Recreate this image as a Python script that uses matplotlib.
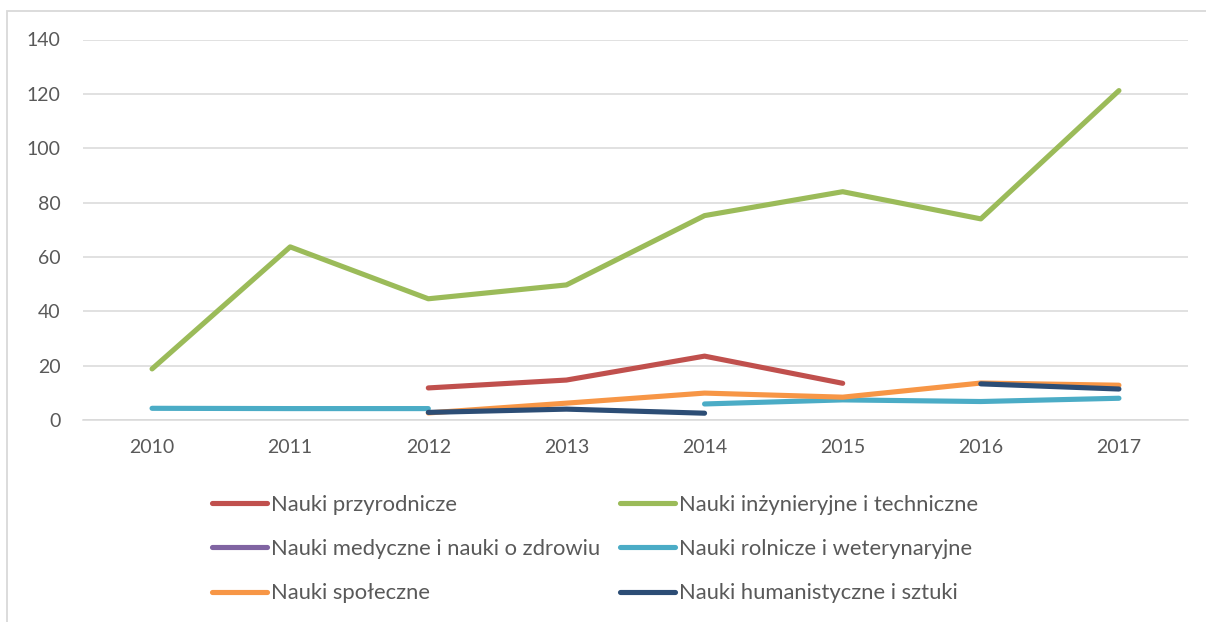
import numpy as np
import matplotlib
matplotlib.use("Agg")
import matplotlib.pyplot as plt
from matplotlib.patches import Rectangle

years = ["2010", "2011", "2012", "2013", "2014", "2015", "2016", "2017"]
nan = np.nan
przyrodnicze = [nan, nan, 11.8, 14.7, 23.5, 13.5, nan, nan]
inzynieryjne = [18.8, 63.7, 44.6, 49.7, 75.2, 84.0, 74.0, 121.2]
medyczne = [nan, nan, nan, nan, nan, nan, nan, nan]
rolnicze = [4.3, 4.2, 4.2, nan, 5.9, 7.4, 6.8, 8.0]
spoleczne = [nan, nan, 2.6, 6.2, 9.9, 8.4, 13.6, 12.8]
humanistyczne = [nan, nan, 2.8, 4.0, 2.5, nan, 13.3, 11.4]

series = [
    ("Nauki przyrodnicze", przyrodnicze, "#C0504D"),
    ("Nauki inżynieryjne i techniczne", inzynieryjne, "#9BBB59"),
    ("Nauki medyczne i nauki o zdrowiu", medyczne, "#8064A2"),
    ("Nauki rolnicze i weterynaryjne", rolnicze, "#4BACC6"),
    ("Nauki społeczne", spoleczne, "#F79646"),
    ("Nauki humanistyczne i sztuki", humanistyczne, "#2C4D75"),
]

plt.rcParams["font.family"] = ["Lato", "DejaVu Sans"]
W, H = 1206, 622
fig = plt.figure(figsize=(W / 100, H / 100), dpi=100)
ax = fig.add_axes([83 / W, (H - 420) / H, (1188 - 83) / W, (420 - 39.5) / H])

x = np.arange(len(years))
handles = []
for name, vals, col in series:
    (ln,) = ax.plot(x, vals, color=col, lw=3.7, solid_capstyle="round",
                    solid_joinstyle="round", label=name)
    handles.append(ln)

ax.set_xlim(-0.5, len(years) - 0.5)
ax.set_ylim(0, 140)
ax.set_yticks(range(0, 141, 20))
ax.set_xticks(x)
ax.set_xticklabels(years)
ax.grid(axis="y", color="#D9D9D9", lw=1.1)
ax.set_axisbelow(True)
for s in ["top", "right", "left"]:
    ax.spines[s].set_visible(False)
ax.spines["bottom"].set_color("#D9D9D9")
ax.spines["bottom"].set_linewidth(1.1)
ax.tick_params(axis="both", length=0, labelsize=14, colors="#595959")
ax.tick_params(axis="y", pad=16)
ax.tick_params(axis="x", pad=14)

# legend is filled column-wise; reorder so rows read left-to-right
order = [0, 2, 4, 1, 3, 5]
leg = fig.legend(handles=[handles[i] for i in order], loc="upper left",
                 bbox_to_anchor=(212 / W, 1 - 495 / H), ncol=2, frameon=False,
                 fontsize=15.8, handlelength=2.5, handletextpad=0.2,
                 columnspacing=0.9, labelspacing=1.1, borderpad=0,
                 borderaxespad=0)
for t in leg.get_texts():
    t.set_color("#595959")

fig.patches.append(Rectangle((7 / W, -0.1), 2.0, (H - 11) / H + 0.1,
                             transform=fig.transFigure, fill=False,
                             edgecolor="#D9D9D9", lw=1.3))

fig.savefig("out.png", dpi=100)
